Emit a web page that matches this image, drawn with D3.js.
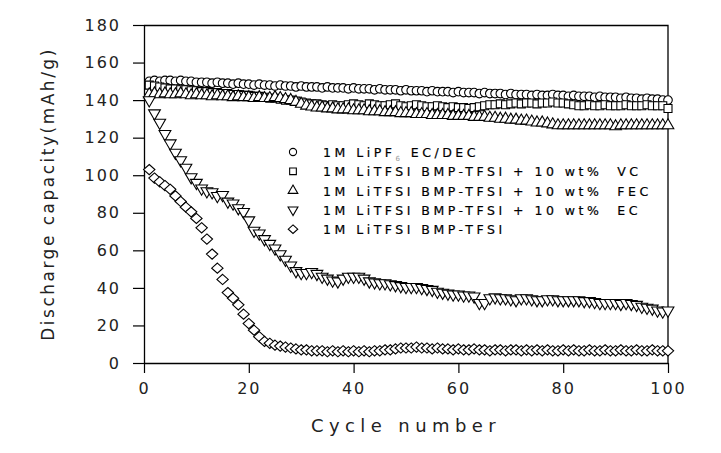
<!DOCTYPE html>
<html>
<head>
<meta charset="utf-8">
<script src="https://cdn.jsdelivr.net/npm/d3@7/dist/d3.min.js"></script>
<style>
  body { margin: 0; background: #fff; }
  svg { display: block; font-family: 'DejaVu Sans', sans-serif; }
</style>
</head>
<body>
<svg id="chart" width="721" height="453"></svg>
<script>
// cycles 1..100
const cycles = d3.range(1, 101)

const seriesNames = ['LiPF6', 'VC', 'FEC', 'EC', 'BMP']

const lipf6 = [
  150, 150.5, 150, 150.5, 150.5, 150, 150.5, 150, 150, 149.5,
  149.5, 149.5, 149, 149.5, 149, 149, 148.5, 149, 148.5, 148.5,
  148, 148.5, 148, 148, 147.5, 148, 147.5, 147.5, 147, 147.5,
  147, 147, 147, 146.5, 147, 146.5, 146.5, 146.5, 146, 146.5,
  146, 146, 146, 145.5, 146, 145.5, 145.5, 145.5, 145, 145.5,
  145, 145, 145, 144.5, 145, 144.5, 144.5, 144.5, 144, 144.5,
  144, 144, 144, 143.5, 144, 143.5, 143.5, 143.5, 143, 143.5,
  143, 143, 143, 142.5, 143, 142.5, 142.5, 143, 142.5, 142.5,
  142, 142.5, 142, 142, 142, 141.5, 142, 141.5, 141.5, 141.5,
  141, 141.5, 141, 141, 140.5, 141, 140.5, 140.5, 140, 140
]

const vc = [
  148, 147.5, 147, 146.5, 146, 146, 145.5, 145.5, 145, 145,
  144.5, 144.5, 144, 144, 143.5, 143.5, 143, 143, 142.5, 142.5,
  142, 142, 141.5, 141, 141, 140.5, 140, 140, 139.5, 139,
  138.5, 138, 138, 137.5, 137, 137.5, 137, 137, 137.5, 138,
  137.5, 137, 138, 137.5, 137, 137, 137.5, 138, 137, 136.5,
  137, 137.5, 137, 136.5, 136.5, 137, 136.5, 136, 136.5, 136,
  136, 135.5, 136, 136.5, 137, 137.5, 137.5, 138, 137.5, 138,
  138.5, 138, 138.5, 138.5, 138, 138.5, 138.5, 139, 138.5, 138.5,
  138, 137.5, 137, 137, 137.5, 137, 137, 137.5, 137, 137,
  137, 137.5, 137, 137, 137, 137.5, 137, 137, 137, 135.5
]

const fec = [
  143, 143.5, 143, 143.5, 143, 143, 143.5, 143, 142.5, 143,
  142.5, 142.5, 142, 142.5, 142, 142, 141.5, 142, 141.5, 141.5,
  141, 141.5, 141, 141, 141.5, 141, 140.5, 140, 139, 138,
  137, 136.5, 136, 136, 135.5, 135.5, 135, 135, 135, 134.5,
  134.5, 134.5, 134, 134, 134, 133.5, 133.5, 133.5, 133, 133,
  133, 132.5, 132.5, 132.5, 132, 132, 132, 132, 131.5, 131.5,
  131.5, 131.5, 131, 131, 131, 130.5, 130.5, 130, 130, 129.5,
  129.5, 129, 129, 128.5, 128, 128, 127.5, 127, 126.5, 126.5,
  126.5, 126.5, 126.5, 126.5, 126.5, 126.5, 126.5, 126.5, 126.5, 126,
  126.5, 126.5, 126.5, 126.5, 126.5, 126.5, 126.5, 126.5, 126.5, 126.5
]

const ec = [
  140, 133, 128, 122, 117, 112, 108, 104, 99, 96,
  93, 91.5, 91, 89, 89.5, 86, 85, 82.5, 80.5, 76,
  70.5, 69, 66, 63.5, 61, 58, 55, 52, 49, 48,
  48, 48.5, 47.5, 46, 45, 44, 43.5, 45, 46, 46,
  46, 45, 43.5, 43, 42.5, 42.5, 42, 41.5, 41, 40.5,
  40.5, 40.5, 40, 39.5, 39, 38, 37.5, 37, 36.5, 36.5,
  36, 36, 35.5, 32, 32, 34.5, 35, 34.5, 34.5, 34,
  33.5, 34.5, 34.5, 34, 33.5, 33.5, 34, 34, 33.5, 33.5,
  33.5, 33.5, 33.5, 33, 33, 32.5, 32, 32, 32, 32,
  31.5, 32, 31.5, 31, 30, 29.5, 29, 28, 27.5, 28
]

const bmp = [
  103, 98.5, 96.5, 94.5, 92.5, 89, 86, 83, 80.5, 77,
  72, 66, 58, 50.5, 44.5, 37.5, 34.5, 31, 26, 21,
  17.5, 14, 11.5, 10.5, 9.5, 9, 8.5, 8, 7.5, 7,
  7, 6.5, 6.5, 6.5, 6, 6.5, 6, 6.5, 6, 6.5,
  6, 6.5, 6, 6.5, 6.5, 7, 7, 7.5, 8, 8,
  8, 8.5, 8, 8, 7.5, 8, 7.5, 7.5, 7, 7.5,
  7, 7, 7.5, 7, 7, 6.5, 7, 7, 6.5, 7,
  7, 6.5, 7, 6.5, 7, 6.5, 7, 6.5, 6.5, 7,
  6.5, 7, 6.5, 6.5, 7, 6.5, 6.5, 7, 6.5, 6.5,
  7, 6.5, 6.5, 7, 6.5, 6.5, 7, 6.5, 6.5, 6.5
]

const xTicks = [0, 20, 40, 60, 80, 100]
const yTicks = [0, 20, 40, 60, 80, 100, 120, 140, 160, 180]

const legendLabels = [
  '1M LiPF6 EC/DEC',
  '1M LiTFSI BMP-TFSI + 10 wt%  VC',
  '1M LiTFSI BMP-TFSI + 10 wt%  FEC',
  '1M LiTFSI BMP-TFSI + 10 wt%  EC',
  '1M LiTFSI BMP-TFSI'
]

const allSeries = [lipf6, vc, fec, ec, bmp]

// wide diamond, like the original plot markers
const symbolWideDiamond = {
  draw (context, size) {
    const w = Math.sqrt(size) * 0.72
    const h = w * 0.9
    context.moveTo(0, -h)
    context.lineTo(w, 0)
    context.lineTo(0, h)
    context.lineTo(-w, 0)
    context.closePath()
  }
}

const markers = [
  { type: d3.symbolCircle, size: 58, rotate: 0 },
  { type: d3.symbolSquare, size: 64, rotate: 0 },
  { type: d3.symbolTriangle, size: 58, rotate: 0 },
  { type: d3.symbolTriangle, size: 60, rotate: 180 },
  { type: symbolWideDiamond, size: 62, rotate: 0 }
]

const svg = d3.select('#chart')
const margin = { top: 25, right: 53, bottom: 90, left: 144 }
const width = +svg.attr('width') - margin.left - margin.right
const height = +svg.attr('height') - margin.top - margin.bottom
const g = svg.append('g').attr('transform', 'translate(' + margin.left + ',' + margin.top + ')')

const x = d3.scaleLinear().domain([0, 100]).range([0, width])
const y = d3.scaleLinear().domain([0, 180]).range([height, 0])

// frame (top and right)
g.append('path')
  .attr('d', 'M0,0.5H' + width + 'V' + height)
  .attr('fill', 'none')
  .attr('stroke', '#000')
  .attr('stroke-width', 1.3)

// X-axis
const xAxis = g.append('g')
  .attr('transform', 'translate(0,' + height + ')')
  .call(d3.axisBottom(x).tickValues(xTicks).tickSize(10).tickPadding(10).tickSizeOuter(0))
xAxis.select('.domain').attr('stroke-width', 1.3)
xAxis.selectAll('line').attr('stroke-width', 1.2)
xAxis.selectAll('text')
  .attr('font-size', 16)
  .attr('letter-spacing', '2px')
  .attr('fill', '#222')
  .attr('font-family', "'DejaVu Sans', sans-serif")

// Y-axis
const yAxis = g.append('g')
  .call(d3.axisLeft(y).tickValues(yTicks).tickSize(11).tickPadding(12).tickSizeOuter(0))
yAxis.select('.domain').attr('stroke-width', 1.3)
yAxis.selectAll('line').attr('stroke-width', 1.2)
yAxis.selectAll('text')
  .attr('font-size', 16)
  .attr('letter-spacing', '2px')
  .attr('fill', '#222')
  .attr('font-family', "'DejaVu Sans', sans-serif")

// Axis titles
svg.append('text')
  .attr('x', margin.left + width / 2)
  .attr('y', 432)
  .attr('text-anchor', 'middle')
  .attr('font-size', 18)
  .attr('letter-spacing', '5.4px')
  .attr('fill', '#222')
  .text('Cycle number')

svg.append('text')
  .attr('transform', 'translate(54,' + (margin.top + height / 2) + ') rotate(-90)')
  .attr('text-anchor', 'middle')
  .attr('font-size', 17)
  .attr('letter-spacing', '2.5px')
  .attr('fill', '#222')
  .text('Discharge capacity(mAh/g)')

// Markers
allSeries.forEach((values, si) => {
  const m = markers[si]
  const sym = d3.symbol().type(m.type).size(m.size)
  g.append('g')
    .attr('class', 'series-' + seriesNames[si])
    .selectAll('path')
    .data(values)
    .enter().append('path')
    .attr('d', sym)
    .attr('transform', (d, i) => 'translate(' + x(cycles[i]) + ',' + y(d) + ') rotate(' + m.rotate + ')')
    .attr('fill', '#fff')
    .attr('stroke', '#000')
    .attr('stroke-width', 1.1)
})

// Legend
const legend = svg.append('g').attr('transform', 'translate(293,152)')
legendLabels.forEach((label, i) => {
  const m = markers[i]
  const row = legend.append('g').attr('transform', 'translate(0,' + (i * 19.3) + ')')
  row.append('path')
    .attr('d', d3.symbol().type(m.type).size(m.size * 0.7)())
    .attr('transform', 'rotate(' + m.rotate + ')')
    .attr('fill', '#fff')
    .attr('stroke', '#000')
    .attr('stroke-width', 1.1)
  const t = row.append('text')
    .attr('x', 30)
    .attr('y', 5)
    .attr('font-size', 12.5)
    .attr('letter-spacing', '3.5px')
    .attr('fill', '#000')
    .attr('stroke', '#000')
    .attr('stroke-width', 0.2)
    .style('white-space', 'pre')
  if (i === 0) {
    t.append('tspan').text('1M LiPF')
    t.append('tspan').attr('font-size', 7).attr('dy', 4).attr('fill', '#999').attr('stroke', 'none').text('6')
    t.append('tspan').attr('dy', -4).text(' EC/DEC')
  } else {
    t.text(label)
  }
})
</script>
</body>
</html>
